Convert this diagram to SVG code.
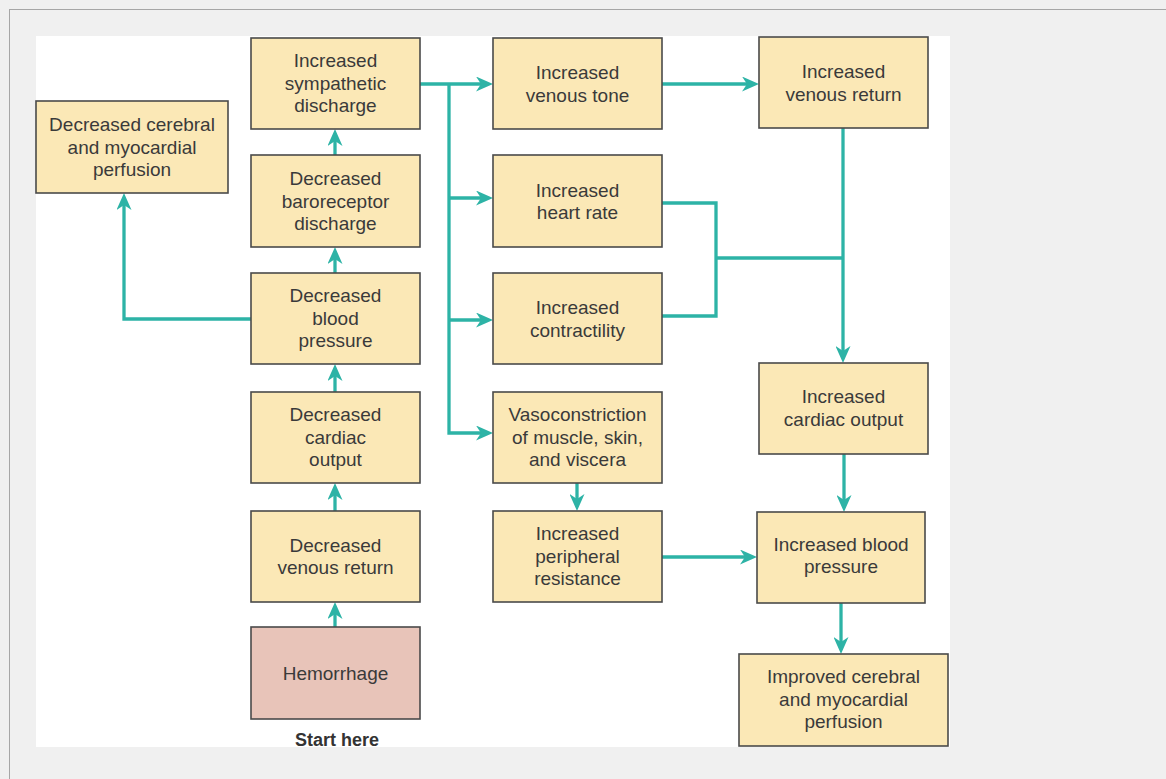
<svg xmlns="http://www.w3.org/2000/svg" width="1166" height="779" viewBox="0 0 1166 779">
<defs>
<style>
.box{fill:#fbe8b6;stroke:#4a4a4a;stroke-width:1.6}
.hem{fill:#e8c4b9;stroke:#4a4a4a;stroke-width:1.6}
.t{font-family:"Liberation Sans",Arial,sans-serif;font-size:19px;fill:#3a3a3a;text-anchor:middle}
.b{font-family:"Liberation Sans",Arial,sans-serif;font-size:18px;font-weight:bold;fill:#333;text-anchor:middle}
.c{fill:none;stroke:#2db3a6;stroke-width:3.3;stroke-linejoin:miter}
</style>
<marker id="ah" markerUnits="userSpaceOnUse" markerWidth="17" markerHeight="15" viewBox="0 0 17 15" refX="11" refY="7.5" orient="auto">
<path d="M0,0 L17,7.5 L0,15 L5,7.5 Z" fill="#2db3a6"/>
</marker>
</defs>
<rect x="0" y="0" width="1166" height="779" fill="#f0f0f0"/>
<rect x="9.5" y="9.5" width="1200" height="800" fill="none" stroke="#a6a6a6" stroke-width="1"/>
<rect x="36" y="36" width="914" height="711" fill="#ffffff"/>

<g id="connectors">
<path class="c" marker-end="url(#ah)" d="M335,627 V608"/>
<path class="c" marker-end="url(#ah)" d="M335,511 V489"/>
<path class="c" marker-end="url(#ah)" d="M335,392 V370"/>
<path class="c" marker-end="url(#ah)" d="M335,273 V253"/>
<path class="c" marker-end="url(#ah)" d="M335,155 V135"/>
<path class="c" marker-end="url(#ah)" d="M251,319 H124 V199"/>
<path class="c" marker-end="url(#ah)" d="M420,84 H487"/>
<path class="c" marker-end="url(#ah)" d="M449,84 V433 H487"/>
<path class="c" marker-end="url(#ah)" d="M449,198 H487"/>
<path class="c" marker-end="url(#ah)" d="M449,320 H487"/>
<path class="c" marker-end="url(#ah)" d="M662,84 H753"/>
<path class="c" d="M662,203 H716 V316 H662"/>
<path class="c" d="M716,258 H843"/>
<path class="c" marker-end="url(#ah)" d="M843,128 V357"/>
<path class="c" marker-end="url(#ah)" d="M844,454 V506"/>
<path class="c" marker-end="url(#ah)" d="M577,483 V505"/>
<path class="c" marker-end="url(#ah)" d="M662,557 H751"/>
<path class="c" marker-end="url(#ah)" d="M841,603 V648"/>
</g>

<g id="sympathetic">
<rect class="box" x="251" y="38" width="169" height="91"/>
<text class="t"><tspan x="335.5" y="67">Increased</tspan><tspan x="335.5" y="89.5">sympathetic</tspan><tspan x="335.5" y="112">discharge</tspan></text>
</g>
<g id="baroreceptor">
<rect class="box" x="251" y="155" width="169" height="92"/>
<text class="t"><tspan x="335.5" y="185">Decreased</tspan><tspan x="335.5" y="207.5">baroreceptor</tspan><tspan x="335.5" y="230">discharge</tspan></text>
</g>
<g id="decBP">
<rect class="box" x="251" y="273" width="169" height="91"/>
<text class="t"><tspan x="335.5" y="302">Decreased</tspan><tspan x="335.5" y="324.5">blood</tspan><tspan x="335.5" y="347">pressure</tspan></text>
</g>
<g id="decCO">
<rect class="box" x="251" y="392" width="169" height="91"/>
<text class="t"><tspan x="335.5" y="421">Decreased</tspan><tspan x="335.5" y="443.5">cardiac</tspan><tspan x="335.5" y="466">output</tspan></text>
</g>
<g id="decVR">
<rect class="box" x="251" y="511" width="169" height="91"/>
<text class="t"><tspan x="335.5" y="551.5">Decreased</tspan><tspan x="335.5" y="574">venous return</tspan></text>
</g>
<g id="hemorrhage">
<rect class="hem" x="251" y="627" width="169" height="92"/>
<text class="t" x="335.5" y="679.5">Hemorrhage</text>
<text class="b" x="337" y="746">Start here</text>
</g>
<g id="decCerebral">
<rect class="box" x="36" y="101" width="192" height="92"/>
<text class="t"><tspan x="132" y="131">Decreased cerebral</tspan><tspan x="132" y="153.5">and myocardial</tspan><tspan x="132" y="176">perfusion</tspan></text>
</g>
<g id="venousTone">
<rect class="box" x="493" y="38" width="169" height="91"/>
<text class="t"><tspan x="577.5" y="79">Increased</tspan><tspan x="577.5" y="101.5">venous tone</tspan></text>
</g>
<g id="heartRate">
<rect class="box" x="493" y="155" width="169" height="92"/>
<text class="t"><tspan x="577.5" y="196.5">Increased</tspan><tspan x="577.5" y="219">heart rate</tspan></text>
</g>
<g id="contractility">
<rect class="box" x="493" y="273" width="169" height="91"/>
<text class="t"><tspan x="577.5" y="314">Increased</tspan><tspan x="577.5" y="336.5">contractility</tspan></text>
</g>
<g id="vasoconstriction">
<rect class="box" x="493" y="392" width="169" height="91"/>
<text class="t"><tspan x="577.5" y="421">Vasoconstriction</tspan><tspan x="577.5" y="443.5">of muscle, skin,</tspan><tspan x="577.5" y="466">and viscera</tspan></text>
</g>
<g id="peripheralResistance">
<rect class="box" x="493" y="511" width="169" height="91"/>
<text class="t"><tspan x="577.5" y="540">Increased</tspan><tspan x="577.5" y="562.5">peripheral</tspan><tspan x="577.5" y="585">resistance</tspan></text>
</g>
<g id="venousReturn">
<rect class="box" x="759" y="37" width="169" height="91"/>
<text class="t"><tspan x="843.5" y="78">Increased</tspan><tspan x="843.5" y="100.5">venous return</tspan></text>
</g>
<g id="cardiacOutput">
<rect class="box" x="759" y="363" width="169" height="91"/>
<text class="t"><tspan x="843.5" y="403">Increased</tspan><tspan x="843.5" y="425.5">cardiac output</tspan></text>
</g>
<g id="incBP">
<rect class="box" x="757" y="512" width="168" height="91"/>
<text class="t"><tspan x="841" y="550.5">Increased blood</tspan><tspan x="841" y="573">pressure</tspan></text>
</g>
<g id="improved">
<rect class="box" x="739" y="654" width="209" height="92"/>
<text class="t"><tspan x="843.5" y="683">Improved cerebral</tspan><tspan x="843.5" y="705.5">and myocardial</tspan><tspan x="843.5" y="728">perfusion</tspan></text>
</g>
</svg>
